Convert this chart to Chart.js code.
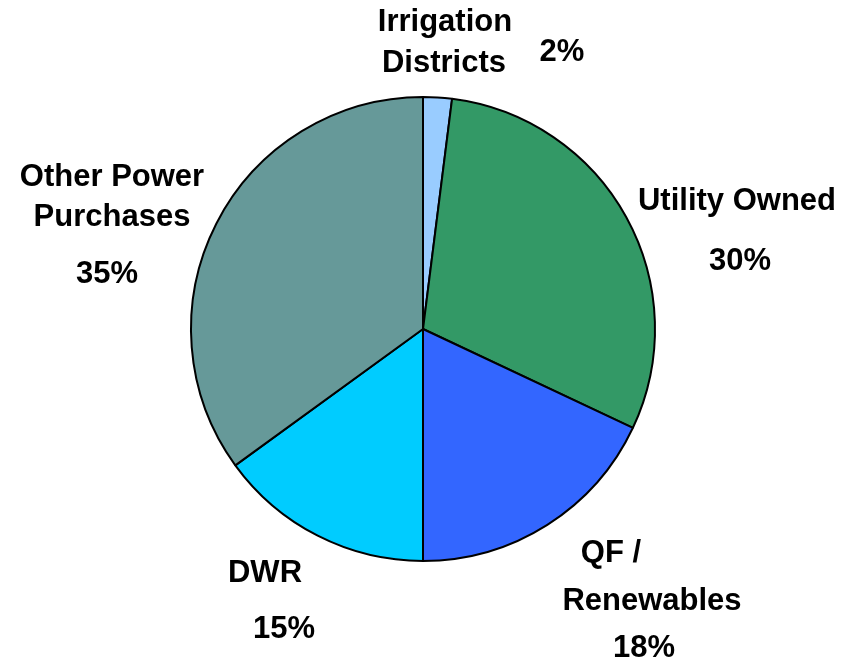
<!DOCTYPE html>
<html>
<head>
<meta charset="utf-8">
<script src="https://cdn.jsdelivr.net/npm/chart.js@4/dist/chart.umd.min.js"></script>
<style>
  html, body { margin: 0; padding: 0; background: #fff; }
  #wrap { width: 853px; height: 663px; }
</style>
</head>
<body>
<div id="wrap"><canvas id="pieChart" width="853" height="663"></canvas></div>
<script>
// данные диаграммы (по часовой стрелке от 12 часов)
const categories = ["Irrigation Districts", "Utility Owned", "QF / Renewables", "DWR", "Other Power Purchases"];
const shares = [2, 30, 18, 15, 35];
const sliceColors = ["#99CCFF", "#339966", "#3366FF", "#00CCFF", "#669999"];

// подписи: строки названия + процент, позиция центра текста
const labelLines = [
    [["Irrigation", 445, 22], ["Districts", 444, 63], ["2%", 562, 52]],
    [["Utility Owned", 737, 201], ["30%", 740, 261]],
    [["QF /", 611, 553], ["Renewables", 652, 601], ["18%", 644, 648]],
    [["DWR", 265, 573], ["15%", 284, 629]],
    [["Other Power", 112, 177], ["Purchases", 112, 217], ["35%", 107, 274]]
];

const labelPlugin = {
    id: 'sliceLabels',
    afterDraw(chart) {
        const ctx = chart.ctx;
        ctx.save();
        ctx.fillStyle = '#000';
        ctx.font = 'bold 31px "Liberation Sans", Arial, sans-serif';
        ctx.textAlign = 'center';
        ctx.textBaseline = 'middle';
        labelLines.forEach(group => {
            group.forEach(([txt, x, y]) => ctx.fillText(txt, x, y));
        });
        ctx.restore();
    }
};

let ctx = document.getElementById('pieChart').getContext('2d');
let pieChart = new Chart(ctx, {
    type: 'pie',
    data: {
        labels: categories,
        datasets: [{
            data: shares,
            backgroundColor: sliceColors,
            borderColor: '#000',
            borderWidth: 2
        }]
    },
    options: {
        responsive: false,
        animation: false,
        layout: { padding: { left: 0, right: 7, top: 96, bottom: 101 } },
        plugins: {
            legend: { display: false },
            tooltip: { enabled: false }
        }
    },
    plugins: [labelPlugin]
});
</script>
</body>
</html>
